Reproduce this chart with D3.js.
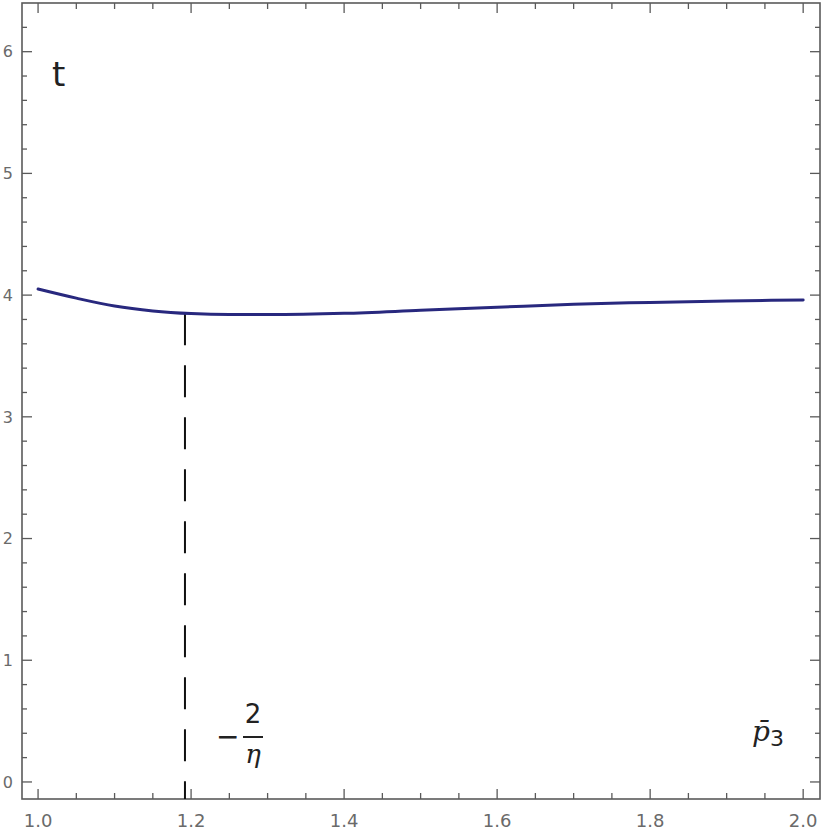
<!DOCTYPE html>
<html>
<head>
<meta charset="utf-8">
<script src="https://cdn.jsdelivr.net/npm/d3@7"></script>
<style>
  body { margin: 0; background: #fff; }
  svg { display: block; }
</style>
</head>
<body>
<div id="chart"></div>
<script>
// curve samples
const pValues = [1.0, 1.05, 1.1, 1.15, 1.2, 1.25, 1.3, 1.4, 1.5, 1.6, 1.7, 1.8, 1.9, 2.0];
const tValues = [4.05, 3.975, 3.91, 3.87, 3.848, 3.84, 3.84, 3.85, 3.875, 3.90, 3.925, 3.94, 3.952, 3.96];

const xTicks = [1.0, 1.2, 1.4, 1.6, 1.8, 2.0];
const yTicks = [0, 1, 2, 3, 4, 5, 6];
const markerX = 1.192; // -2/eta

const width = 830;
const height = 838;
const frame = { left: 22, right: 820, top: 3, bottom: 799 };

const svg = d3.select('#chart')
    .append('svg')
    .attr('width', width)
    .attr('height', height);

const x = d3.scaleLinear()
    .domain([0.979, 2.022])
    .range([frame.left, frame.right]);

const y = d3.scaleLinear()
    .domain([-0.14, 6.40])
    .range([frame.bottom, frame.top]);

const axisColor = '#5a5a5a';
const labelColor = '#6a6a6a';

const xMinor = d3.range(1.0, 2.0001, 0.05).filter(v => !xTicks.some(t => Math.abs(t - v) < 1e-6));
const yMinor = d3.range(0, 6.4, 0.2).filter(v => !yTicks.some(t => Math.abs(t - v) < 1e-6));

// ticks pointing inward, on all four sides
function tickLines(g, vals, len, side) {
    g.selectAll(null)
        .data(vals)
        .enter()
        .append('line')
        .attr('x1', d => side === 'bottom' || side === 'top' ? x(d) : (side === 'left' ? frame.left : frame.right))
        .attr('x2', d => side === 'bottom' || side === 'top' ? x(d) : (side === 'left' ? frame.left + len : frame.right - len))
        .attr('y1', d => side === 'left' || side === 'right' ? y(d) : (side === 'bottom' ? frame.bottom : frame.top))
        .attr('y2', d => side === 'left' || side === 'right' ? y(d) : (side === 'bottom' ? frame.bottom - len : frame.top + len))
        .attr('stroke', axisColor)
        .attr('stroke-width', 1.3);
}

const ticks = svg.append('g').attr('class', 'ticks');
tickLines(ticks, xTicks, 10, 'bottom');
tickLines(ticks, xMinor, 6, 'bottom');
tickLines(ticks, xTicks, 10, 'top');
tickLines(ticks, xMinor, 6, 'top');
tickLines(ticks, yTicks, 10, 'left');
tickLines(ticks, yMinor, 5, 'left');
tickLines(ticks, yTicks, 10, 'right');
tickLines(ticks, yMinor, 5, 'right');

// frame
svg.append('rect')
    .attr('x', frame.left)
    .attr('y', frame.top)
    .attr('width', frame.right - frame.left)
    .attr('height', frame.bottom - frame.top)
    .attr('fill', 'none')
    .attr('stroke', axisColor)
    .attr('stroke-width', 1.6);

// tick labels
svg.append('g')
    .selectAll('text')
    .data(xTicks)
    .enter()
    .append('text')
    .attr('x', d => x(d))
    .attr('y', 827)
    .attr('text-anchor', 'middle')
    .attr('font-family', 'DejaVu Sans, sans-serif')
    .attr('font-size', 18)
    .attr('fill', labelColor)
    .text(d => d.toFixed(1));

svg.append('g')
    .selectAll('text')
    .data(yTicks)
    .enter()
    .append('text')
    .attr('x', 13)
    .attr('y', d => y(d))
    .attr('dy', '0.36em')
    .attr('text-anchor', 'end')
    .attr('font-family', 'DejaVu Sans, sans-serif')
    .attr('font-size', 16)
    .attr('fill', labelColor)
    .text(d => d);

// dashed marker line
const curveAtMarker = d3.scaleLinear().domain(pValues).range(tValues)(markerX);
svg.append('line')
    .attr('x1', x(markerX))
    .attr('x2', x(markerX))
    .attr('y1', y(curveAtMarker))
    .attr('y2', frame.bottom)
    .attr('stroke', '#111')
    .attr('stroke-width', 2)
    .attr('stroke-dasharray', '32,20');

// the curve
const line = d3.line()
    .x((d, i) => x(pValues[i]))
    .y(d => y(d))
    .curve(d3.curveMonotoneX);

svg.append('path')
    .datum(tValues)
    .attr('d', line)
    .attr('fill', 'none')
    .attr('stroke', '#28287e')
    .attr('stroke-width', 3)
    .attr('stroke-linecap', 'round');

// axis labels
svg.append('text')
    .attr('x', 52)
    .attr('y', 86)
    .attr('font-family', 'DejaVu Sans, sans-serif')
    .attr('font-size', 34)
    .attr('fill', '#222')
    .text('t');

const p3 = svg.append('text')
    .attr('x', 752)
    .attr('y', 741)
    .attr('font-family', 'DejaVu Serif, serif')
    .attr('font-size', 28)
    .attr('fill', '#222');
p3.append('tspan').attr('font-style', 'italic').text('p\u0304');
p3.append('tspan')
    .attr('font-family', 'DejaVu Sans, sans-serif')
    .attr('font-size', 22)
    .attr('dy', 5)
    .text('3');

// -2/eta label
const frac = svg.append('g').attr('font-family', 'DejaVu Sans, sans-serif').attr('fill', '#222');
frac.append('text')
    .attr('x', 216)
    .attr('y', 746)
    .attr('font-size', 28)
    .text('\u2212');
frac.append('line')
    .attr('x1', 243).attr('x2', 263)
    .attr('y1', 737).attr('y2', 737)
    .attr('stroke', '#222')
    .attr('stroke-width', 2);
frac.append('text')
    .attr('x', 253)
    .attr('y', 723)
    .attr('text-anchor', 'middle')
    .attr('font-size', 26)
    .text('2');
frac.append('text')
    .attr('x', 253)
    .attr('y', 763)
    .attr('text-anchor', 'middle')
    .attr('font-family', 'DejaVu Serif, serif')
    .attr('font-style', 'italic')
    .attr('font-size', 26)
    .text('\u03b7');
</script>
</body>
</html>
